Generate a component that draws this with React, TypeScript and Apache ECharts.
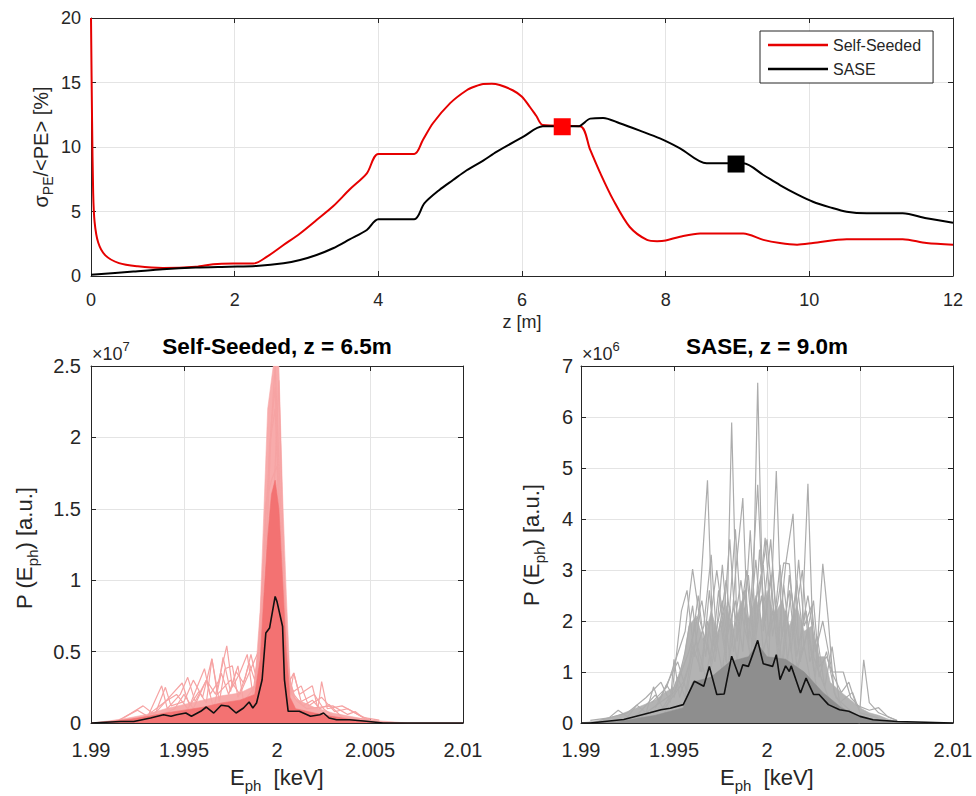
import React, { useEffect, useRef } from "react";
import * as echarts from "echarts";

const FONT = "'Liberation Sans', Arial, Helvetica, sans-serif";
const AX = "#262626";
const GRIDLINE = "#e4e4e4";

// ---------- axis ranges ----------
const zRange = [0, 12];
const zStep = 2;
const relStdRange = [0, 20];
const relStdStep = 5;
const energyRange = [1.99, 2.01];
const energyStep = 0.005;
const ssPowerRange = [0, 2.5];
const ssPowerStep = 0.5;
const sasePowerRange = [0, 7];
const sasePowerStep = 1;

// ---------- top panel: sigma_PE/<PE> [%] vs z [m] ----------
const selfSeededStd: number[][] = [
  [0, 20], [0.015, 12], [0.03, 6.5], [0.05, 4.2], [0.1, 2.6], [0.2, 1.6], [0.39, 1.0],
  [0.65, 0.75], [1.0, 0.62], [1.46, 0.72], [1.7, 0.92], [1.98, 0.97], [2.26, 0.97],
  [2.45, 1.5], [2.68, 2.4], [2.91, 3.3], [3.14, 4.34], [3.37, 5.4], [3.6, 6.7], [3.84, 7.96],
  [4.0, 9.46], [4.5, 9.46], [4.62, 10.54], [4.76, 11.84], [5.0, 13.4], [5.23, 14.4],
  [5.35, 14.7], [5.46, 14.88], [5.58, 14.9], [5.69, 14.8], [5.87, 14.4], [6.0, 13.9],
  [6.11, 13.1], [6.2, 12.4], [6.29, 11.7], [6.81, 11.6], [6.95, 9.77], [7.09, 7.97],
  [7.27, 5.9], [7.5, 3.8], [7.74, 2.8], [7.88, 2.7], [8.0, 2.75], [8.2, 3.05], [8.48, 3.3],
  [9.08, 3.3], [9.36, 2.8], [9.59, 2.55], [9.83, 2.43], [10.05, 2.55], [10.52, 2.85],
  [11.3, 2.85], [11.63, 2.55], [12, 2.43],
];
const saseStd: number[][] = [
  [0, 0.1], [0.59, 0.34], [1.0, 0.52], [1.46, 0.65], [1.92, 0.72], [2.3, 0.78], [2.68, 0.98],
  [2.91, 1.24], [3.14, 1.63], [3.37, 2.15], [3.6, 2.84], [3.84, 3.57], [4.0, 4.4], [4.5, 4.4],
  [4.64, 5.63], [4.85, 6.67], [5.04, 7.44], [5.23, 8.2], [5.46, 8.95], [5.65, 9.64],
  [6.02, 10.8], [6.29, 11.6], [6.78, 11.6], [6.95, 12.2], [7.13, 12.25], [7.36, 11.84],
  [7.64, 11.27], [7.92, 10.67], [8.2, 9.9], [8.57, 8.74], [9.08, 8.74], [9.36, 7.83],
  [9.59, 7.05], [9.83, 6.33], [10.05, 5.76], [10.29, 5.32], [10.52, 4.98], [10.8, 4.86],
  [11.3, 4.86], [11.63, 4.47], [12, 4.13],
];
const selfSeededMarker: number[][] = [[6.56, 11.57]];
const saseMarker: number[][] = [[8.98, 8.68]];

// ---------- bottom-left: Self-Seeded spectra (x1e7) ----------
const ssEnvelope: number[][] = [
  [1.99, 0], [1.991, 0.015], [1.992, 0.035], [1.993, 0.06], [1.994, 0.1], [1.995, 0.13],
  [1.996, 0.16], [1.997, 0.19], [1.998, 0.21], [1.9988, 0.26], [1.9991, 0.8], [1.9993, 1.5],
  [1.9995, 2.2], [1.9998, 2.5], [2.0001, 2.5], [2.0003, 1.6], [2.0005, 0.9], [2.0007, 0.3],
  [2.001, 0.17], [2.0015, 0.14], [2.002, 0.11], [2.003, 0.07], [2.004, 0.045], [2.005, 0.02],
  [2.006, 0.01], [2.007, 0], [2.01, 0],
];
const ssCore: number[][] = [
  [1.99, 0], [1.991, 0.01], [1.992, 0.025], [1.993, 0.045], [1.994, 0.07], [1.995, 0.09],
  [1.996, 0.11], [1.997, 0.14], [1.998, 0.16], [1.9988, 0.2], [1.9991, 0.45], [1.9993, 0.9],
  [1.9995, 1.3], [1.9997, 1.6], [1.9999, 1.7], [2.0001, 1.5], [2.0003, 1.0], [2.0005, 0.5],
  [2.0007, 0.18], [2.001, 0.1], [2.0015, 0.085], [2.002, 0.07], [2.003, 0.045], [2.004, 0.025],
  [2.005, 0.01], [2.006, 0], [2.01, 0],
];
const ssShotA: number[][] = [
  [1.9925, 0.02], [1.9935, 0.08], [1.994, 0.25], [1.9943, 0.12], [1.995, 0.15], [1.9955, 0.3],
  [1.996, 0.18], [1.9965, 0.45], [1.9968, 0.2], [1.9975, 0.3], [1.998, 0.2], [1.9985, 0.35],
  [1.999, 0.5], [1.9993, 1.2], [1.9996, 1.9], [1.9999, 2.5], [2.0002, 1.5], [2.0004, 0.6],
  [2.0007, 0.3], [2.0009, 0.35], [2.0013, 0.15], [2.002, 0.2], [2.0025, 0.1], [2.003, 0.05],
  [2.004, 0.02],
];
const ssShotB: number[][] = [
  [1.993, 0.03], [1.9938, 0.26], [1.9941, 0.1], [1.9948, 0.2], [1.9952, 0.32], [1.9956, 0.15],
  [1.9962, 0.3], [1.9967, 0.2], [1.9973, 0.54], [1.9976, 0.25], [1.998, 0.35], [1.9984, 0.48],
  [1.9987, 0.2], [1.999, 0.49], [1.9994, 1.0], [1.9998, 1.5], [2.0001, 2.4], [2.0004, 0.9],
  [2.0007, 0.2], [2.0009, 0.35], [2.0012, 0.2], [2.0019, 0.26], [2.0022, 0.1], [2.0024, 0.29],
  [2.0027, 0.1], [2.0035, 0.12], [2.0045, 0.05], [2.005, 0.02],
];
const ssShotC: number[][] = [
  [1.9915, 0.02], [1.9925, 0.09], [1.993, 0.05], [1.994, 0.15], [1.9946, 0.2], [1.9952, 0.1],
  [1.9958, 0.22], [1.9962, 0.14], [1.9965, 0.45], [1.9969, 0.15], [1.9972, 0.38], [1.9976, 0.4],
  [1.9979, 0.18], [1.9983, 0.32], [1.9986, 0.48], [1.9989, 0.3], [1.9992, 0.7], [1.9994, 1.0],
  [1.9996, 1.95], [1.9999, 2.2], [2.0002, 1.2], [2.0005, 0.5], [2.0008, 0.2], [2.0011, 0.15],
  [2.0016, 0.1], [2.003, 0.12], [2.0038, 0.06], [2.0042, 0.08], [2.0048, 0.02],
];
const ssShotD: number[][] = [
  [1.9935, 0.04], [1.9945, 0.1], [1.995, 0.2], [1.9955, 0.1], [1.9962, 0.3], [1.9966, 0.1],
  [1.997, 0.35], [1.9974, 0.2], [1.9979, 0.4], [1.9982, 0.15], [1.9988, 0.25], [1.9991, 0.4],
  [1.9994, 1.54], [1.9997, 1.7], [2.0, 1.8], [2.0003, 1.0], [2.0006, 0.35], [2.0009, 0.2],
  [2.0014, 0.12], [2.0019, 0.16], [2.0023, 0.1], [2.0028, 0.13], [2.0035, 0.04],
  [2.0045, 0.03], [2.0055, 0.01],
];
const ssShotE: number[][] = [
  [1.9918, 0.04], [1.9928, 0.12], [1.9934, 0.06], [1.9942, 0.18], [1.9949, 0.28], [1.9953, 0.12],
  [1.9957, 0.25], [1.9961, 0.38], [1.9964, 0.2], [1.9969, 0.3], [1.9971, 0.46], [1.9975, 0.22],
  [1.9978, 0.36], [1.9982, 0.28], [1.9985, 0.42], [1.9988, 0.3], [1.9991, 0.6], [1.9993, 1.1],
  [1.9995, 1.45], [1.9997, 2.1], [1.9999, 2.35], [2.0001, 1.6], [2.0003, 0.8], [2.0006, 0.28],
  [2.0009, 0.22], [2.0013, 0.26], [2.0017, 0.12], [2.0024, 0.18], [2.0031, 0.08],
  [2.0038, 0.1], [2.0046, 0.04], [2.0055, 0.02],
];
const ssMean: number[][] = [
  [1.99, 0], [1.9916, 0.01], [1.9923, 0.01], [1.9932, 0.035], [1.9939, 0.058], [1.9943, 0.047],
  [1.9946, 0.058], [1.9951, 0.07], [1.9954, 0.047], [1.9959, 0.082], [1.9962, 0.112],
  [1.9966, 0.07], [1.997, 0.124], [1.9974, 0.117], [1.9978, 0.07], [1.9982, 0.105],
  [1.9985, 0.147], [1.9987, 0.105], [1.9989, 0.14], [1.9992, 0.303], [1.9994, 0.63],
  [1.9996, 0.665], [1.9999, 0.886], [2.0, 0.85], [2.0003, 0.676], [2.0004, 0.303],
  [2.0006, 0.082], [2.0012, 0.082], [2.0018, 0.047], [2.0023, 0.058], [2.0025, 0.07],
  [2.0028, 0.035], [2.0032, 0.023], [2.0039, 0.023], [2.0048, 0.012], [2.0057, 0], [2.01, 0],
];

// ---------- bottom-right: SASE spectra (x1e6) ----------
const saseEnvelope: number[][] = [
  [1.99, 0], [1.991, 0.05], [1.992, 0.15], [1.993, 0.3], [1.994, 0.45], [1.9945, 0.6],
  [1.995, 0.7], [1.9955, 1.2], [1.9958, 1.9], [1.9962, 2.1], [1.9966, 1.6], [1.997, 2.2],
  [1.9974, 1.7], [1.9978, 2.3], [1.9982, 1.8], [1.9986, 2.4], [1.999, 2.0], [1.9994, 2.5],
  [1.9997, 2.0], [2.0, 2.6], [2.0004, 2.1], [2.0008, 2.4], [2.0012, 1.9], [2.0016, 2.3],
  [2.002, 1.8], [2.0024, 1.9], [2.0028, 1.3], [2.0031, 1.3], [2.0034, 0.8], [2.004, 0.6],
  [2.0045, 0.45], [2.005, 0.3], [2.0055, 0.2], [2.006, 0.15], [2.0065, 0.08], [2.007, 0.03],
  [2.01, 0],
];
const saseCore: number[][] = [
  [1.99, 0], [1.992, 0.03], [1.994, 0.15], [1.9955, 0.3], [1.996, 0.8], [1.997, 0.9],
  [1.998, 1.2], [1.999, 1.3], [1.9995, 1.55], [2.0, 1.3], [2.001, 1.25], [2.002, 1.0],
  [2.003, 0.6], [2.004, 0.3], [2.005, 0.12], [2.006, 0.05], [2.007, 0.01], [2.01, 0],
];
const saseShotA: number[][] = [
  [1.993, 0.1], [1.9945, 0.3], [1.9955, 0.8], [1.9962, 1.6], [1.9967, 0.9], [1.9972, 1.8],
  [1.9976, 1.0], [1.998, 2.3], [1.9984, 1.2], [1.9988, 2.6], [1.9992, 1.5], [1.9995, 6.67],
  [1.9998, 1.8], [2.0002, 2.9], [2.0006, 1.2], [2.001, 2.2], [2.0015, 0.9], [2.002, 1.5],
  [2.0025, 0.5], [2.003, 0.3], [2.0035, 0.1], [2.005, 0],
];
const saseShotB: number[][] = [
  [1.9935, 0.2], [1.995, 0.6], [1.9958, 1.4], [1.9965, 2.4], [1.997, 1.1], [1.9975, 2.0],
  [1.9978, 1.2], [1.9981, 5.89], [1.9984, 1.6], [1.9989, 3.0], [1.9993, 1.4], [1.9997, 2.5],
  [2.0001, 1.3], [2.0005, 4.94], [2.0008, 1.7], [2.0012, 2.6], [2.0016, 1.1], [2.0022, 1.8],
  [2.0027, 0.6], [2.0033, 0.2], [2.004, 0.05],
];
const saseShotC: number[][] = [
  [1.994, 0.3], [1.9952, 1.2], [1.9957, 0.6], [1.9963, 1.9], [1.9968, 4.76], [1.9971, 1.5],
  [1.9976, 2.4], [1.998, 1.3], [1.9986, 2.8], [1.999, 1.6], [1.9994, 3.2], [1.9998, 1.4],
  [2.0003, 2.2], [2.0008, 1.0], [2.0013, 2.6], [2.0018, 1.2], [2.0022, 4.69], [2.0025, 1.3],
  [2.003, 0.8], [2.0035, 0.3], [2.0045, 0.05],
];
const saseShotD: number[][] = [
  [1.9938, 0.4], [1.9946, 0.7], [1.9956, 1.8], [1.996, 3.02], [1.9964, 2.0], [1.997, 1.2],
  [1.9974, 2.6], [1.9979, 1.0], [1.9983, 2.9], [1.9987, 4.41], [1.999, 1.5], [1.9995, 4.67],
  [1.9998, 2.2], [2.0002, 3.6], [2.0006, 1.6], [2.001, 3.1], [2.0014, 4.1], [2.0017, 1.5],
  [2.0021, 2.2], [2.0026, 0.9], [2.003, 3.12], [2.0033, 2.0], [2.0036, 0.6], [2.0042, 0.2],
];
const saseShotE: number[][] = [
  [1.991, 0.05], [1.9925, 0.2], [1.9935, 0.5], [1.9943, 0.8], [1.9948, 0.4], [1.995, 1.25],
  [1.9953, 0.5], [1.9958, 1.1], [1.9963, 2.5], [1.9967, 1.3], [1.9973, 3.0], [1.9978, 1.6],
  [1.9983, 2.4], [1.9987, 1.4], [1.9991, 3.78], [1.9994, 1.8], [1.9999, 3.63], [2.0003, 1.7],
  [2.0009, 3.14], [2.0012, 3.12], [2.0016, 1.3], [2.0022, 2.5], [2.0026, 1.4], [2.003, 2.0],
  [2.0035, 1.0], [2.0041, 1.0], [2.0045, 0.5], [2.005, 0.3], [2.0052, 1.24], [2.0055, 0.4],
  [2.006, 0.2], [2.007, 0.05],
];
const saseShotF: number[][] = [
  [1.9905, 0.05], [1.9915, 0.1], [1.992, 0.25], [1.9925, 0.12], [1.993, 0.35], [1.9935, 0.2],
  [1.9939, 0.71], [1.9942, 0.4], [1.9946, 0.75], [1.995, 0.5], [1.9956, 1.4], [1.996, 2.3],
  [1.9964, 1.0], [1.9968, 2.0], [1.9972, 1.2], [1.9978, 2.8], [1.9982, 1.4], [1.9986, 2.2],
  [1.9992, 1.2], [1.9997, 2.9], [2.0, 3.6], [2.0004, 2.0], [2.0007, 3.1], [2.0011, 1.2],
  [2.0016, 2.8], [2.002, 1.5], [2.0025, 2.4], [2.0028, 1.1], [2.0032, 1.3], [2.0036, 0.9],
  [2.004, 0.6], [2.0044, 0.8], [2.0048, 0.35], [2.0055, 0.25], [2.006, 0.3], [2.0065, 0.12],
  [2.007, 0.05],
];
const saseShotG: number[][] = [
  [1.9945, 0.2], [1.9952, 0.9], [1.9956, 0.5], [1.996, 1.5], [1.9965, 1.0], [1.9969, 2.6],
  [1.9972, 1.4], [1.9976, 3.1], [1.9979, 1.8], [1.9983, 3.8], [1.9986, 2.1], [1.999, 2.9],
  [1.9993, 1.6], [1.9996, 3.4], [1.9999, 2.0], [2.0003, 3.0], [2.0006, 1.5], [2.0009, 2.7],
  [2.0013, 1.4], [2.0017, 3.2], [2.002, 1.9], [2.0024, 2.3], [2.0028, 0.9], [2.0032, 1.4],
  [2.0037, 0.5], [2.0043, 0.3], [2.005, 0.1],
];
const saseShotH: number[][] = [
  [1.993, 0.15], [1.994, 0.55], [1.9944, 0.3], [1.9949, 0.6], [1.9954, 2.2], [1.9957, 2.6],
  [1.9961, 1.3], [1.9966, 1.9], [1.997, 3.3], [1.9973, 1.6], [1.9977, 2.2], [1.998, 3.6],
  [1.9983, 1.9], [1.9988, 2.5], [1.9991, 1.2], [1.9994, 2.4], [1.9998, 3.1], [2.0001, 1.7],
  [2.0005, 2.3], [2.0008, 1.1], [2.0012, 2.9], [2.0015, 2.0], [2.0019, 3.0], [2.0023, 1.2],
  [2.0027, 1.7], [2.0031, 0.7], [2.0035, 1.5], [2.0039, 0.4], [2.0046, 0.6], [2.005, 0.2],
  [2.006, 0.1],
];
const saseMean: number[][] = [
  [1.99, 0], [1.9905, 0], [1.9923, 0.07], [1.9937, 0.2], [1.9943, 0.26], [1.9948, 0.29],
  [1.9955, 0.36], [1.9961, 0.82], [1.9966, 0.72], [1.9969, 1.11], [1.9973, 0.56],
  [1.9977, 0.57], [1.9981, 1.31], [1.9985, 0.91], [1.9987, 1.14], [1.999, 1.11],
  [1.9995, 1.62], [1.9998, 1.16], [2.0003, 1.11], [2.0005, 1.34], [2.0007, 0.85],
  [2.001, 1.12], [2.0012, 1.01], [2.0013, 1.12], [2.0018, 0.59], [2.0021, 0.88],
  [2.0025, 0.56], [2.0028, 0.56], [2.0033, 0.36], [2.0039, 0.26], [2.0044, 0.23],
  [2.005, 0.13], [2.0057, 0.065], [2.007, 0.03], [2.01, 0],
];

// ---------- helpers ----------
const fmtE = (v: number) => String(Number(v.toFixed(4)));
const fmtN = (v: number) => String(Number(v.toFixed(3)));

function xAxes(grid: number, range: number[], step: number, fmt: any, fontSize: number, margin: number) {
  return [
    {
      type: "value", gridIndex: grid, min: range[0], max: range[1], interval: step, position: "bottom",
      axisLine: { show: true, onZero: false, lineStyle: { color: AX, width: 1 } },
      axisTick: { show: true, inside: true, length: 5, lineStyle: { color: AX } },
      axisLabel: { show: true, color: AX, fontSize, fontFamily: FONT, margin, formatter: fmt, showMinLabel: true, showMaxLabel: true },
      splitLine: { show: true, lineStyle: { color: GRIDLINE, width: 1 } },
    },
    {
      type: "value", gridIndex: grid, min: range[0], max: range[1], interval: step, position: "top",
      axisLine: { show: true, onZero: false, lineStyle: { color: AX, width: 1 } },
      axisTick: { show: true, inside: true, length: 5, lineStyle: { color: AX } },
      axisLabel: { show: false },
      splitLine: { show: false },
    },
  ];
}
function yAxes(grid: number, range: number[], step: number, fmt: any, fontSize: number, margin: number) {
  return [
    {
      type: "value", gridIndex: grid, min: range[0], max: range[1], interval: step, position: "left",
      axisLine: { show: true, onZero: false, lineStyle: { color: AX, width: 1 } },
      axisTick: { show: true, inside: true, length: 5, lineStyle: { color: AX } },
      axisLabel: { show: true, color: AX, fontSize, fontFamily: FONT, margin, formatter: fmt, showMinLabel: true, showMaxLabel: true },
      splitLine: { show: true, lineStyle: { color: GRIDLINE, width: 1 } },
    },
    {
      type: "value", gridIndex: grid, min: range[0], max: range[1], interval: step, position: "right",
      axisLine: { show: true, onZero: false, lineStyle: { color: AX, width: 1 } },
      axisTick: { show: true, inside: true, length: 5, lineStyle: { color: AX } },
      axisLabel: { show: false },
      splitLine: { show: false },
    },
  ];
}
function area(name: string, data: number[][], axis: number, color: string, z = 2) {
  return {
    name, type: "line", xAxisIndex: axis, yAxisIndex: axis, data, symbol: "none", z,
    lineStyle: { width: 0.6, color }, areaStyle: { color, opacity: 1 }, silent: true,
  };
}
function shot(name: string, data: number[][], axis: number, color: string) {
  return {
    name, type: "line", xAxisIndex: axis, yAxisIndex: axis, data, symbol: "none", z: 3,
    lineStyle: { width: 1.2, color }, silent: true,
  };
}
function mean(name: string, data: number[][], axis: number) {
  return {
    name, type: "line", xAxisIndex: axis, yAxisIndex: axis, data, symbol: "none", z: 5,
    lineStyle: { width: 1.6, color: "#111111" }, silent: true,
  };
}

// ---------- text with sub/superscripts, laid out by measured widths ----------
let measureCtx: CanvasRenderingContext2D | null = null;
function measure(text: string, size: number, weight = "normal") {
  if (!measureCtx) measureCtx = document.createElement("canvas").getContext("2d");
  if (!measureCtx) return text.length * size * 0.55;
  measureCtx.font = `${weight} ${size}px ${FONT}`;
  return measureCtx.measureText(text).width;
}
type Part = { t: string; size: number; dy?: number; weight?: string; color?: string };
function scriptText(x: number, y: number, parts: Part[], rotation = 0, centred = true) {
  const widths = parts.map((p) => measure(p.t, p.size, p.weight || "normal"));
  const total = widths.reduce((a, b) => a + b, 0);
  let cx = centred ? -total / 2 : 0;
  const children = parts.map((p, i) => {
    const el = {
      type: "text", x: cx, y: p.dy || 0, silent: true,
      style: {
        text: p.t, fontSize: p.size, fontFamily: FONT, fontWeight: p.weight || "normal",
        fill: p.color || "#262626", align: "left", verticalAlign: "middle",
      },
    };
    cx += widths[i];
    return el;
  });
  return { type: "group", x, y, rotation, silent: true, children };
}

const SS_SHOT = "#f6a3a3";
const SASE_SHOT = "#acacac";

function buildOption(): any {
  return {
    animation: false,
    backgroundColor: "#ffffff",
    grid: [
      { left: 91, top: 18, width: 862, height: 258 },
      { left: 91, top: 366, width: 372, height: 357 },
      { left: 581, top: 366, width: 372, height: 357 },
    ],
    xAxis: [
      ...xAxes(0, zRange, zStep, fmtN, 18, 15),
      ...xAxes(1, energyRange, energyStep, fmtE, 20, 17),
      ...xAxes(2, energyRange, energyStep, fmtE, 20, 17),
    ],
    yAxis: [
      ...yAxes(0, relStdRange, relStdStep, fmtN, 18, 10),
      ...yAxes(1, ssPowerRange, ssPowerStep, fmtN, 20, 10),
      ...yAxes(2, sasePowerRange, sasePowerStep, fmtN, 20, 8),
    ],
    legend: {
      show: true,
      data: [
        { name: "Self-Seeded", icon: "rect" },
        { name: "SASE", icon: "rect" },
      ],
      orient: "vertical",
      left: 760, top: 31,
      itemWidth: 60, itemHeight: 2.5, itemGap: 6,
      padding: [5, 12, 5, 8],
      borderColor: AX, borderWidth: 1, backgroundColor: "#ffffff",
      textStyle: { fontSize: 16, fontFamily: FONT, color: AX, lineHeight: 18 },
      selectedMode: false,
    },
    series: [
      {
        name: "Self-Seeded", type: "line", xAxisIndex: 0, yAxisIndex: 0, data: selfSeededStd,
        symbol: "none", smooth: 0.3, lineStyle: { width: 2, color: "#e60000" }, itemStyle: { color: "#e60000" }, z: 3,
      },
      {
        name: "SASE", type: "line", xAxisIndex: 0, yAxisIndex: 0, data: saseStd,
        symbol: "none", smooth: 0.3, lineStyle: { width: 2, color: "#000000" }, itemStyle: { color: "#000000" }, z: 4,
      },
      {
        name: "ssMarker", type: "scatter", xAxisIndex: 0, yAxisIndex: 0, data: selfSeededMarker,
        symbol: "rect", symbolSize: 17, itemStyle: { color: "#ff0000", opacity: 1 }, z: 6,
      },
      {
        name: "saseMarker", type: "scatter", xAxisIndex: 0, yAxisIndex: 0, data: saseMarker,
        symbol: "rect", symbolSize: 17, itemStyle: { color: "#000000", opacity: 1 }, z: 6,
      },

      area("ssEnvelope", ssEnvelope, 2, "#f8abab", 2),
      shot("ssShotA", ssShotA, 2, SS_SHOT),
      shot("ssShotB", ssShotB, 2, SS_SHOT),
      shot("ssShotC", ssShotC, 2, SS_SHOT),
      shot("ssShotD", ssShotD, 2, SS_SHOT),
      shot("ssShotE", ssShotE, 2, SS_SHOT),
      area("ssCore", ssCore, 2, "#f37272", 4),
      mean("ssMean", ssMean, 2),

      area("saseEnvelope", saseEnvelope, 4, "#b3b3b3", 2),
      shot("saseShotA", saseShotA, 4, SASE_SHOT),
      shot("saseShotB", saseShotB, 4, SASE_SHOT),
      shot("saseShotC", saseShotC, 4, SASE_SHOT),
      shot("saseShotD", saseShotD, 4, SASE_SHOT),
      shot("saseShotE", saseShotE, 4, SASE_SHOT),
      shot("saseShotF", saseShotF, 4, SASE_SHOT),
      shot("saseShotG", saseShotG, 4, SASE_SHOT),
      shot("saseShotH", saseShotH, 4, SASE_SHOT),
      area("saseCore", saseCore, 4, "#8e8e8e", 4),
      mean("saseMean", saseMean, 4),
    ],
    graphic: [
      scriptText(41, 147, [
        { t: "σ", size: 20 },
        { t: "PE", size: 14, dy: 7 },
        { t: "/<PE> [%]", size: 20 },
      ], Math.PI / 2),
      scriptText(522, 322, [{ t: "z [m]", size: 18 }]),
      scriptText(277, 346, [{ t: "Self-Seeded, z = 6.5m", size: 22.5, weight: "bold", color: "#000000" }]),
      scriptText(767, 346, [{ t: "SASE, z = 9.0m", size: 22.5, weight: "bold", color: "#000000" }]),
      scriptText(92, 354, [
        { t: "×10", size: 18 },
        { t: "7", size: 13, dy: -8 },
      ], 0, false),
      scriptText(582, 354, [
        { t: "×10", size: 18 },
        { t: "6", size: 13, dy: -8 },
      ], 0, false),
      scriptText(24, 548, [
        { t: "P (E", size: 22 },
        { t: "ph", size: 15, dy: 8 },
        { t: ") [a.u.]", size: 22 },
      ], Math.PI / 2),
      scriptText(531, 545, [
        { t: "P (E", size: 22 },
        { t: "ph", size: 15, dy: 8 },
        { t: ") [a.u.]", size: 22 },
      ], Math.PI / 2),
      scriptText(230, 777, [
        { t: "E", size: 22 },
        { t: "ph", size: 15, dy: 8 },
        { t: "  [keV]", size: 22 },
      ], 0, false),
      scriptText(720, 777, [
        { t: "E", size: 22 },
        { t: "ph", size: 15, dy: 8 },
        { t: "  [keV]", size: 22 },
      ], 0, false),
    ],
  };
}

export default function App() {
  const ref = useRef<HTMLDivElement>(null);
  useEffect(() => {
    if (!ref.current) return;
    const chart = echarts.init(ref.current, undefined, { renderer: "svg" });
    chart.setOption(buildOption());
    return () => chart.dispose();
  }, []);
  return (
    <div
      ref={ref}
      style={{ position: "absolute", left: 0, top: 0, width: 976, height: 796, background: "#ffffff" }}
    />
  );
}
